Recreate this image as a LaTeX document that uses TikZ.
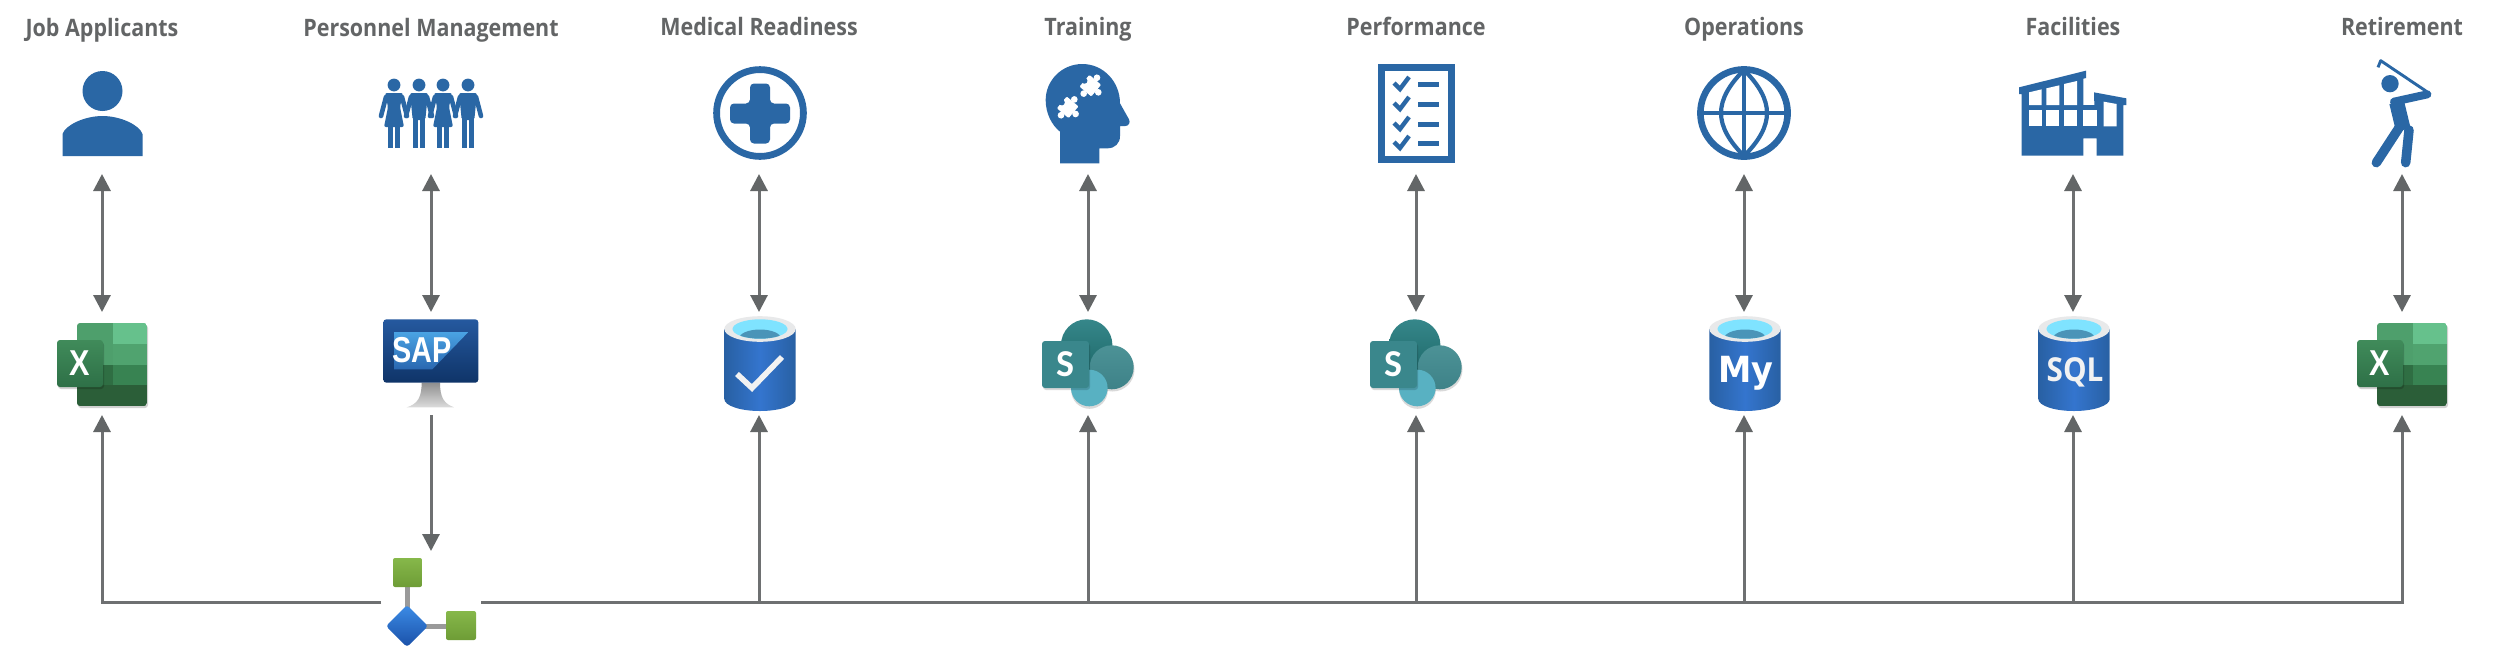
\documentclass[tikz,border=0pt]{standalone}
\usepackage{fontspec}
\setmainfont{Carlito}
\newfontfamily\sapfont{Liberation Sans}
\newfontfamily\opensans{Open Sans}
\newfontfamily\dejavu{DejaVu Sans}
\usetikzlibrary{arrows.meta}
\definecolor{iconblue}{HTML}{2A67A5}
\definecolor{linegrey}{HTML}{6E7071}
\definecolor{headgrey}{HTML}{636667}
\definecolor{labelgrey}{HTML}{636566}
\definecolor{xla}{HTML}{4E9F6C}
\definecolor{xlb}{HTML}{66C18C}
\definecolor{xlc}{HTML}{50A36F}
\definecolor{xld}{HTML}{2F6E43}
\definecolor{xle}{HTML}{388352}
\definecolor{xlf}{HTML}{2B5E38}
\definecolor{xlg}{HTML}{408B5A}
\definecolor{xlh}{HTML}{2E7047}
\definecolor{spdark}{HTML}{1F6A6B}
\definecolor{sptop}{HTML}{36878A}
\definecolor{spright}{HTML}{3E8288}
\definecolor{sprightb}{HTML}{4C9296}
\definecolor{spsmall}{HTML}{58B1C2}
\definecolor{spsq}{HTML}{3A878C}
\definecolor{dbedge}{HTML}{2860A3}
\definecolor{dbmid}{HTML}{3475CE}
\definecolor{dbrim}{HTML}{E8E9EA}
\definecolor{dbwater}{HTML}{7FE3FF}
\definecolor{dbdeep}{HTML}{4A94B8}
\definecolor{sapa}{HTML}{25599F}
\definecolor{sapb}{HTML}{0F3468}
\definecolor{sapc}{HTML}{4AA3E3}
\definecolor{sapd}{HTML}{2A67B0}
\definecolor{standa}{HTML}{8F8F8F}
\definecolor{standb}{HTML}{DCDCDC}
\definecolor{hubga}{HTML}{86B84A}
\definecolor{hubgb}{HTML}{6E9C36}
\definecolor{hubba}{HTML}{3C8CE6}
\definecolor{hubbb}{HTML}{1A50A8}
\definecolor{hubl}{HTML}{9A9A9A}
\tikzset{
  title/.style={font=\opensans\bfseries\fontsize{24}{24}\selectfont,text=labelgrey,anchor=base,inner sep=0pt,xscale=.895},
  slot/.style={inner sep=0pt,outer sep=0pt,minimum width=100pt},
  iconslot/.style={slot,minimum height=110pt},
  srcslot/.style={slot,minimum height=103pt},
  hubslot/.style={slot,minimum height=102pt},
  conn/.style={draw=linegrey,line width=3pt},
  oneway/.style={conn,-{Triangle[length=17pt,width=17pt,color=headgrey]}},
  twoway/.style={conn,{Triangle[length=17pt,width=17pt,color=headgrey]}-{Triangle[length=17pt,width=17pt,color=headgrey]}},
  zoomed/.style={x=0.33333pt,y=-0.33333pt},
  limb/.style={draw=iconblue,line cap=round,line join=round},
}
\newcommand{\excelicon}[2]{%
\begin{scope}[shift={(#1,0)}]
  \fill[black,opacity=.18,rounded corners=3pt] (78,325) rectangle (148,408);
  \begin{scope}
    \clip[rounded corners=3pt] (77,323) rectangle (147,406);
    \fill[xla] (77,323) rectangle (113,344);
    \fill[xlb] (113,323) rectangle (147,344);
    \fill[xla] (77,344) rectangle (113,365);
    \fill[xlc] (113,344) rectangle (147,365);
    \fill[xld] (77,365) rectangle (113,385);
    \fill[xle] (113,365) rectangle (147,385);
    \fill[xlf] (77,385) rectangle (147,406);
  \end{scope}
  \fill[black,opacity=.18,rounded corners=3pt] (58,342) rectangle (104,389);
  \shade[top color=xlg,bottom color=xlh,rounded corners=3pt] (57,340) rectangle (103,387);
  \node[inner sep=0pt,text=white,xscale=.85,font=\sapfont\bfseries\fontsize{36}{36}\selectfont] (#2) at (80,363.5) {X};
\end{scope}}
\newcommand{\sharepointicon}[2]{%
\begin{scope}[shift={(#1,0)}]
  \fill[black,opacity=.15] (1112.5,369.5) circle[radius=22];
  \fill[black,opacity=.15] (1089.5,390.5) circle[radius=18.3];
  \shade[top color=sptop,bottom color=spdark] (1086.7,345) circle[radius=25.7];
  \shade[top color=sprightb,bottom color=spright] (1111.7,367.3) circle[radius=22];
  \fill[spsmall] (1089.3,388) circle[radius=18.3];
  \fill[black,opacity=.15,rounded corners=3pt] (1043,343) rectangle (1090,390);
  \fill[spsq,rounded corners=3pt] (1042,341) rectangle (1089,388);
  \node[inner sep=0pt,text=white,font=\bfseries\fontsize{38}{38}\selectfont] (#2) at (1065.5,364) {S};
\end{scope}}
\newcommand{\cylinderbody}[1]{%
\begin{scope}[shift={(#1,0)}]
  \shade[left color=dbedge,right color=dbedge,middle color=dbmid]
     (-35.7,329) -- (-35.7,399) arc[start angle=180,end angle=0,x radius=35.7,y radius=12] -- (35.7,329) -- cycle;
  \fill[dbrim] (0,329) ellipse[x radius=35.7,y radius=12.8];
  \fill[dbwater] (0,329) ellipse[x radius=27.5,y radius=9.7];
  \begin{scope}
    \clip (0,329) ellipse[x radius=27.5,y radius=9.7];
    \fill[dbdeep] (0,338.5) ellipse[x radius=21,y radius=9];
  \end{scope}
\end{scope}}
\newcommand{\femalefig}[1]{%
\begin{scope}[shift={(#1,0)}]
  \fill[iconblue] (0,85) circle[radius=6.4];
  \draw[limb,line width=4.6pt] (-8,97) -- (-13,116);
  \draw[limb,line width=4.6pt] (8,97) -- (13,116);
  \fill[iconblue,rounded corners=2pt] (-9,93) -- (9,93) -- (6,107) -- (10,127) -- (-10,127) -- (-6,107) -- cycle;
  \fill[iconblue] (-6,126) rectangle (-1.2,148);
  \fill[iconblue] (1.2,126) rectangle (6,148);
\end{scope}}
\newcommand{\malefig}[1]{%
\begin{scope}[shift={(#1,0)}]
  \fill[iconblue] (0,85) circle[radius=6.4];
  \draw[limb,line width=4.6pt] (-8,97) -- (-13,116);
  \draw[limb,line width=4.6pt] (8,97) -- (13,116);
  \fill[iconblue,rounded corners=2pt] (-9,93) -- (9,93) -- (6.3,120) -- (-6.3,120) -- cycle;
  \fill[iconblue] (-6.3,117) rectangle (-1.3,148);
  \fill[iconblue] (1.3,117) rectangle (6.3,148);
\end{scope}}
\newcommand{\puzzlepiece}[3]{%
\begin{scope}[shift={(#1,#2)},rotate=#3]
  \fill[white,rounded corners=1pt] (-23,-23) rectangle (23,23);
  \fill[white] (0,-31) circle[radius=10];
  \fill[white] (31,0) circle[radius=10];
  \fill[iconblue] (-23,0) circle[radius=9];
  \fill[white] (0,31) circle[radius=10];
\end{scope}}
\newcommand{\checkmarkrow}[1]{%
  \draw[iconblue,line width=4.4pt] (1394,#1-1) -- (1400,#1+5) -- (1409,#1-7);
  \fill[iconblue] (1418,#1-2.5) rectangle (1439,#1+2.5);}
\begin{document}
\begin{tikzpicture}[x=1pt,y=-1pt]
\useasboundingbox (0,0) rectangle (2500,665);
\fill[white] (0,0) rectangle (2500,665);

% ---- column titles
\node[title] (t1) at (102,36) {Job Applicants};
\node[title] (t2) at (431,36) {Personnel Management};
\node[title] (t3) at (759,35) {Medical Readiness};
\node[title] (t4) at (1088,35) {Training};
\node[title] (t5) at (1416,35) {Performance};
\node[title] (t6) at (1744,35) {Operations};
\node[title] (t7) at (2073,35) {Facilities};
\node[title] (t8) at (2402,35) {Retirement};

% ---- invisible slots that connectors attach to
\foreach \n/\cx in {1/102,2/431,3/759,4/1088,5/1416,6/1744,7/2073,8/2402}{
  \node[iconslot] (ic\n) at (\cx,119) {};
  \node[srcslot] (src\n) at (\cx,363.5) {};
}
\node[hubslot] (hub) at (431,602) {};

% ---- person
\fill[iconblue] (102.5,91) circle[radius=20];
\fill[iconblue] (62.5,156) -- (62.5,134) .. controls (65.5,125) and (84.5,116) .. (102.5,116) .. controls (120.5,116) and (139.5,125) .. (142.5,134) -- (142.5,156) -- cycle;

% ---- people
\femalefig{394}\malefig{419}\femalefig{443}\malefig{468}

% ---- medical
\draw[iconblue,line width=6.8pt] (760,113) circle[radius=43.4];
\fill[iconblue,rounded corners=4pt] (750,83.5) -- (770,83.5) -- (770,103.5) -- (790,103.5) -- (790,123.5) -- (770,123.5) -- (770,143.5) -- (750,143.5) -- (750,123.5) -- (730,123.5) -- (730,103.5) -- (750,103.5) -- cycle;

% ---- head with puzzle
\begin{scope}[shift={(1020,50)},zoomed]
  \fill[iconblue] (120,340) -- (238,340) -- (238,295) -- (262,295) .. controls (285,295) and (300,280) .. (300,258) -- (300,228) -- (316,228) .. controls (326,228) and (332,218) .. (327,208) -- (300,160) .. controls (300,95) and (250,42) .. (187,42) .. controls (125,42) and (77,92) .. (77,150) .. controls (77,190) and (95,225) .. (120,245) -- cycle;
  \puzzlepiece{143}{172}{-40}
  \puzzlepiece{211}{107}{-40}
\end{scope}

% ---- checklist
\draw[iconblue,line width=7pt] (1381,67.5) rectangle (1451.5,159.5);
\checkmarkrow{84}\checkmarkrow{104}\checkmarkrow{124}\checkmarkrow{143}

% ---- globe
\begin{scope}[shift={(1744,113)}]
  \draw[iconblue,line width=6.6pt] (0,0) circle[radius=43.6];
  \draw[iconblue,line width=4.6pt] (-43,0) -- (43,0);
  \draw[iconblue,line width=4.6pt] (0,-43) -- (0,43);
  \draw[iconblue,line width=4.2pt] (0,-43) .. controls (-15,-28) and (-23,-14) .. (-23,0) .. controls (-23,14) and (-15,28) .. (0,43);
  \draw[iconblue,line width=4.2pt] (0,-43) .. controls (15,-28) and (23,-14) .. (23,0) .. controls (23,14) and (15,28) .. (0,43);
\end{scope}

% ---- building
\begin{scope}[shift={(2000,50)},zoomed]
  \fill[iconblue] (57,112) -- (258,62) -- (258,84) -- (250,86) -- (250,165) -- (283,165) -- (282,127) -- (379,145) -- (379,165) -- (370,165) -- (370,317) -- (290,317) -- (290,265) -- (250,265) -- (250,317) -- (65,317) -- (65,132) -- (57,132) -- cycle;
  \fill[white] (87,127) -- (125,118) -- (125,165) -- (87,165) -- cycle;
  \fill[white] (139,115) -- (178,106) -- (178,165) -- (139,165) -- cycle;
  \fill[white] (192,102) -- (231,93) -- (231,165) -- (192,165) -- cycle;
  \fill[white] (87,179) rectangle (125,229);
  \fill[white] (139,179) rectangle (178,229);
  \fill[white] (192,179) rectangle (231,229);
  \fill[white] (250,179) rectangle (290,229);
  \fill[white] (311,155) -- (350,162) -- (350,229) -- (311,229) -- cycle;
\end{scope}

% ---- golfer
\begin{scope}[shift={(2340,40)},zoomed]
  \fill[iconblue] (150,131) circle[radius=26];
  \draw[limb,line width=2.9pt,line cap=butt] (268,160) -- (122,62) -- (114,82);
  \draw[limb,line width=8pt] (162,185) -- (262,163);
  \draw[limb,line width=15pt,line cap=butt] (170,187) -- (190,270);
  \draw[limb,line width=9.5pt] (178,262) -- (109,368);
  \draw[limb,line width=9.5pt] (207,270) -- (197,368);
\end{scope}

% ---- excel
\excelicon{0}{xa}
\excelicon{2300}{xb}

% ---- SAP monitor
\begin{scope}[shift={(370,310)},zoomed]
  \shade[top color=standa,bottom color=standb] (155,218) -- (210,218) .. controls (210,262) and (222,282) .. (253,292) -- (110,292) .. controls (143,282) and (155,262) .. (155,218) -- cycle;
  \shade[top color=sapa,bottom color=sapb,rounded corners=3pt] (40,28) rectangle (325,218);
  \shade[top color=sapc,bottom color=sapd] (72,66) -- (295,66) -- (187,178) -- (72,178) -- cycle;
\end{scope}
\node[inner sep=0pt,text=white,xscale=.8,font=\sapfont\bfseries\fontsize{36}{36}\selectfont] (saptext) at (422,350.5) {SAP};

% ---- databases
\cylinderbody{760}
\draw[white!95!black,line width=5.6pt] (737,374) -- (752,388) -- (782,357);
\cylinderbody{1745}
\node[inner sep=0pt,text=white,font=\dejavu\bfseries\fontsize{36}{36}\selectfont,xscale=.93] (mytext) at (1746,373) {My};
\cylinderbody{2074}
\node[inner sep=0pt,text=white!95!black,font=\opensans\bfseries\fontsize{33}{33}\selectfont,xscale=.9] (sqltext) at (2075,372) {SQL};

% ---- sharepoint
\sharepointicon{0}{sa}
\sharepointicon{328}{sb}

% ---- hub icon
\draw[hubl,line width=5pt] (407,587) -- (407,612);
\draw[hubl,line width=5pt] (424,626) -- (447,626);
\shade[top color=hubga,bottom color=hubgb,rounded corners=2pt] (393,558) rectangle (422,587);
\shade[top color=hubga,bottom color=hubgb,rounded corners=2pt] (446,611) rectangle (476,640);
\shade[top color=hubba,bottom color=hubbb,rounded corners=3pt] (407,605) -- (428,626) -- (407,647) -- (386,626) -- cycle;

% ---- connectors
\foreach \n in {1,...,8}{ \draw[twoway] (ic\n.south) -- (src\n.north); }
\draw[oneway] (src2.south) -- (hub.north);
\draw[oneway] (hub.west) -| (src1.south);
\draw[oneway] (hub.east) -| (src8.south);
\foreach \n in {3,...,7}{ \draw[oneway] (src\n.south |- hub.east) -- (src\n.south); }
\end{tikzpicture}
\end{document}
